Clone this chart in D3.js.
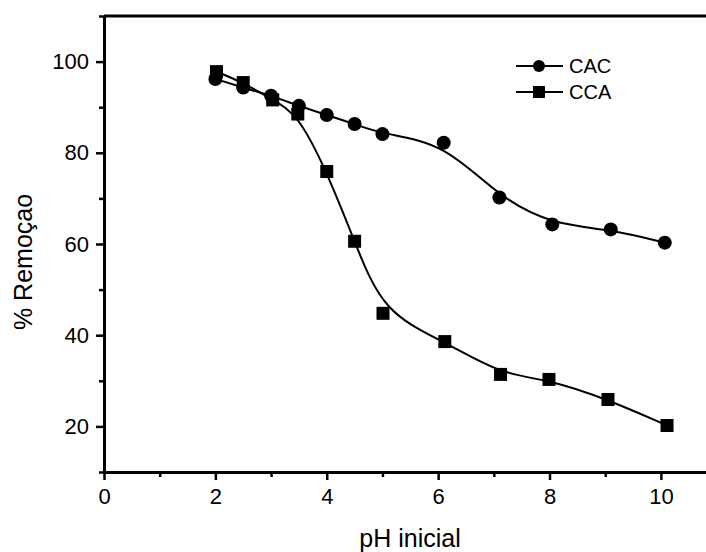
<!DOCTYPE html>
<html>
<head>
<meta charset="utf-8">
<script src="https://cdn.jsdelivr.net/npm/d3@7"></script>
<style>
  html, body { margin: 0; padding: 0; background: #fff; }
  svg { display: block; }
  text { font-family: Arial, "Liberation Sans", Helvetica, sans-serif; fill: #000; }
</style>
</head>
<body>
<svg id="chart" width="706" height="552"></svg>
<script>
// ---- data ----
const phCAC = [2.0, 2.5, 3.0, 3.5, 4.0, 4.5, 5.0, 6.1, 7.1, 8.05, 9.1, 10.07];
const remCAC = [96.2, 94.3, 92.5, 90.3, 88.3, 86.3, 84.1, 82.2, 70.2, 64.3, 63.2, 60.3];
const phCCA = [2.02, 2.5, 3.03, 3.48, 4.0, 4.5, 5.01, 6.12, 7.12, 7.99, 9.05, 10.11];
const remCCA = [97.8, 95.4, 91.6, 88.5, 75.9, 60.6, 44.8, 38.6, 31.4, 30.3, 25.9, 20.2];
const xMajorTicks = [0, 2, 4, 6, 8, 10];
const xMinorTicks = [1, 3, 5, 7, 9];
const yMajorTicks = [20, 40, 60, 80, 100];
const yMinorTicks = [10, 30, 50, 70, 90, 110];
const seriesNames = ["CAC", "CCA"];
const xTitle = "pH inicial";
const yTitle = "% Remoçao";

// ---- layout ----
const svg = d3.select("#chart");
const plotLeft = 104, plotRight = 706, plotTop = 16, plotBottom = 472;
const x = d3.scaleLinear().domain([0, 10.81]).range([plotLeft, plotRight]);
const y = d3.scaleLinear().domain([10, 110]).range([plotBottom, plotTop]);

// top frame line
svg.append("line")
  .attr("x1", plotLeft).attr("x2", plotRight).attr("y1", plotTop).attr("y2", plotTop)
  .attr("stroke", "#000").attr("stroke-width", 3);

// axes
function styleAxis(g) {
  g.select(".domain").attr("stroke-width", 3).attr("stroke", "#000");
  g.selectAll(".tick line").attr("stroke-width", 2.5).attr("stroke", "#000");
  g.selectAll(".tick text").style("font-size", "22px").style("font-family", 'Arial, "Liberation Sans", sans-serif');
}

svg.append("g").attr("transform", `translate(0,${plotBottom})`)
  .call(d3.axisBottom(x).tickValues(xMinorTicks).tickSize(5).tickFormat("").tickSizeOuter(0))
  .call(g => { g.select(".domain").remove(); g.selectAll(".tick line").attr("stroke-width", 2.5); });
svg.append("g").attr("transform", `translate(0,${plotBottom})`)
  .call(d3.axisBottom(x).tickValues(xMajorTicks).tickSize(8).tickPadding(8).tickSizeOuter(0).tickFormat(d3.format("d")))
  .call(styleAxis);

svg.append("g").attr("transform", `translate(${plotLeft},0)`)
  .call(d3.axisLeft(y).tickValues(yMinorTicks).tickSize(5).tickFormat("").tickSizeOuter(0))
  .call(g => { g.select(".domain").remove(); g.selectAll(".tick line").attr("stroke-width", 2.5); });
svg.append("g").attr("transform", `translate(${plotLeft},0)`)
  .call(d3.axisLeft(y).tickValues(yMajorTicks).tickSize(8).tickPadding(7).tickSizeOuter(0).tickFormat(d3.format("d")))
  .call(styleAxis);

// titles
svg.append("text").attr("x", 410).attr("y", 547)
  .attr("text-anchor", "middle").style("font-size", "25px").text(xTitle);
svg.append("text").attr("transform", "translate(32,262) rotate(-90)")
  .attr("text-anchor", "middle").style("font-size", "25px").text(yTitle);

// curves
const line = d3.line().curve(d3.curveBasis).x(d => x(d[0])).y(d => y(d[1]));
const dataCAC = phCAC.map((p, i) => [p, remCAC[i]]);
const dataCCA = phCCA.map((p, i) => [p, remCCA[i]]);

svg.append("path").datum(dataCAC).attr("d", line)
  .attr("fill", "none").attr("stroke", "#000").attr("stroke-width", 2);
svg.append("path").datum(dataCCA).attr("d", line)
  .attr("fill", "none").attr("stroke", "#000").attr("stroke-width", 2);

// markers
svg.append("g").selectAll("circle").data(dataCAC).join("circle")
  .attr("cx", d => x(d[0])).attr("cy", d => y(d[1])).attr("r", 7).attr("fill", "#000");
const sq = 13;
svg.append("g").selectAll("rect").data(dataCCA).join("rect")
  .attr("x", d => x(d[0]) - sq / 2).attr("y", d => y(d[1]) - sq / 2)
  .attr("width", sq).attr("height", sq).attr("fill", "#000");

// legend
const lg = svg.append("g");
const legY = [66, 92];
legY.forEach((ly, i) => {
  lg.append("line").attr("x1", 516).attr("x2", 563).attr("y1", ly).attr("y2", ly)
    .attr("stroke", "#000").attr("stroke-width", 2);
  if (i === 0) {
    lg.append("circle").attr("cx", 539).attr("cy", ly).attr("r", 6).attr("fill", "#000");
  } else {
    lg.append("rect").attr("x", 533).attr("y", ly - 6).attr("width", 12).attr("height", 12).attr("fill", "#000");
  }
  lg.append("text").attr("x", 569).attr("y", ly + 7).style("font-size", "20px").text(seriesNames[i]);
});
</script>
</body>
</html>
